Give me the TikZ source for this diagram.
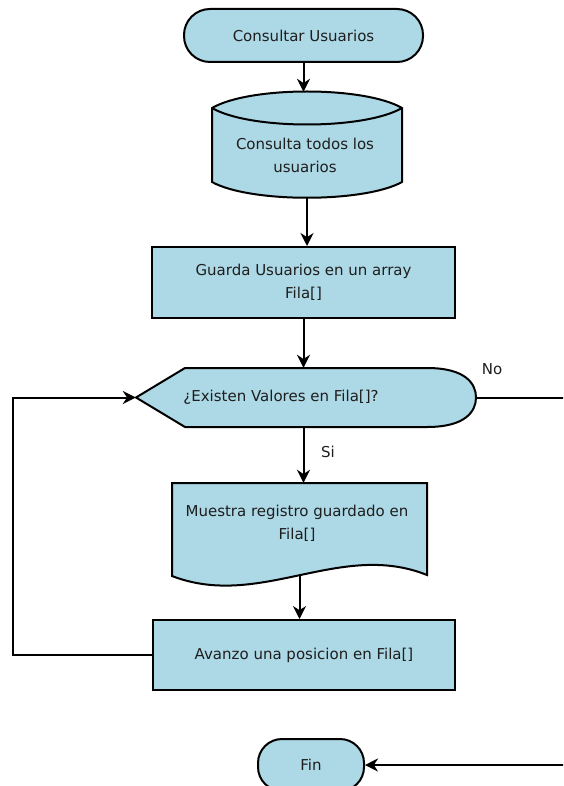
\documentclass[tikz,border=0pt]{standalone}
\usepackage{fontspec}
\setmainfont{DejaVu Sans}
\usetikzlibrary{arrows.meta, calc}
\definecolor{FlowFill}{RGB}{173, 216, 230}
\definecolor{FlowText}{RGB}{30, 30, 30}

\begin{document}
\begin{tikzpicture}[x=1pt, y=-1pt,
  shapeline/.style={draw=black, line width=2pt, fill=FlowFill},
  flowtext/.style={align=center, text=FlowText, font=\fontsize{15}{23}\selectfont},
  holder/.style={inner sep=0pt},
  flowarrow/.style={-{Stealth[length=13pt, width=13pt]}, line width=2pt}]
  \path[use as bounding box] (0,0) rectangle (563,786);
  \clip (0,0) rectangle (563,786);

  % shapes drawn by hand
  \draw[shapeline] (212,108) .. controls (250,86) and (364,86) .. (402,108) -- (402,182)
    .. controls (364,203) and (250,203) .. (212,182) -- cycle;
  \draw[line width=2pt] (212,108) .. controls (250,130) and (364,130) .. (402,108);
  \draw[shapeline] (136,397.5) -- (185,368) -- (427,368)
    .. controls (466,368) and (476,384) .. (476,397.5)
    .. controls (476,411) and (466,427) .. (427,427) -- (185,427) -- cycle;
  \draw[shapeline] (172,483) -- (427,483) -- (427,575)
    .. controls (340,540) and (260,610) .. (172,576) -- cycle;

  \node[shapeline, flowtext, rounded corners=26pt, minimum width=239pt, minimum height=53pt] (start) at (303.5,35.5) {Consultar Usuarios};
  \node[holder, minimum width=190pt, minimum height=106pt] (query) at (307,145) {};
  \node[flowtext] (querytext) at (305,155) {Consulta todos los\\usuarios};
  \node[shapeline, flowtext, minimum width=303pt, minimum height=71pt] (store) at (303.5,282.5) {Guarda Usuarios en un array\\Fila[]};
  \node[holder, minimum width=340pt, minimum height=59pt] (decision) at (306,397.5) {};
  \node[flowtext] (decisiontext) at (281,397.5) {¿Existen Valores en Fila[]?};
  \node[holder, minimum width=255pt, minimum height=93pt] (show) at (299.5,529.5) {};
  \node[flowtext] (showtext) at (297,523.5) {Muestra registro guardado en\\Fila[]};
  \node[shapeline, flowtext, minimum width=302pt, minimum height=70pt] (advance) at (304,655) {Avanzo una posicion en Fila[]};
  \node[shapeline, flowtext, rounded corners=24pt, minimum width=106pt, minimum height=52pt] (fin) at (311,765) {Fin};

  \node[flowtext] (nolabel) at (492,369) {No};
  \node[flowtext] (silabel) at (328,452) {Si};

  \draw[flowarrow] (start.south) -- (start.south |- query.north);
  \draw[flowarrow] (query.south) -- (query.south |- store.north);
  \draw[flowarrow] (store.south) -- (store.south |- decision.north);
  \draw[flowarrow] (store.south |- decision.south) -- (store.south |- show.north);
  \draw[flowarrow] (show.south) -- (show.south |- advance.north);
  \draw[flowarrow] (advance.west) -- ++(-139,0) |- (decision.west);
  \draw[flowarrow] (decision.east) -- ++(120,0) |- (fin.east);
\end{tikzpicture}
\end{document}
